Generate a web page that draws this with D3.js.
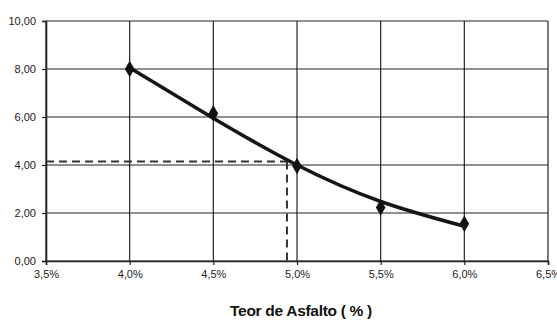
<!DOCTYPE html>
<html><head><meta charset="utf-8">
<script src="https://cdn.jsdelivr.net/npm/d3@7"></script>
<style>body{margin:0;background:#fff}svg{display:block}</style>
</head><body>
<svg id="c" width="557" height="323"></svg>
<script>
const xTicks = [3.5, 4.0, 4.5, 5.0, 5.5, 6.0, 6.5];
const yTicks = [0, 2, 4, 6, 8, 10];
const pointX = [4.0, 4.5, 5.0, 5.5, 6.0];
const pointY = [8.0, 6.15, 3.96, 2.23, 1.55];
const trendX = [4.0, 4.5, 5.0, 5.5, 6.0];
const trendY = [8.05, 5.95, 4.0, 2.48, 1.45];
const refX = 4.94;
const refY = 4.15;
const xTitle = "Teor de Asfalto ( % )";

const svg = d3.select("#c");
const x = d3.scaleLinear().domain([3.5, 6.5]).range([46, 548]);
const y = d3.scaleLinear().domain([0, 10]).range([261, 21]);
const fmtY = v => d3.format(".2f")(v).replace(".", ",");
const fmtX = v => d3.format(".1f")(v).replace(".", ",") + "%";
const ink = "#222";

// gridlines
svg.append("g").selectAll("line").data(yTicks).join("line")
  .attr("x1", x(3.5)).attr("x2", x(6.5))
  .attr("y1", d => y(d)).attr("y2", d => y(d))
  .attr("stroke", ink).attr("stroke-width", 1.2);
svg.append("g").selectAll("line").data(xTicks).join("line")
  .attr("x1", d => x(d)).attr("x2", d => x(d))
  .attr("y1", y(0)).attr("y2", y(10))
  .attr("stroke", ink).attr("stroke-width", 1.2);

// axes
const yAxis = svg.append("g").attr("transform", `translate(${x(3.5)},0)`)
  .call(d3.axisLeft(y).tickValues(yTicks).tickFormat(fmtY).tickSize(4).tickPadding(6));
const xAxis = svg.append("g").attr("transform", `translate(0,${y(0)})`)
  .call(d3.axisBottom(x).tickValues(xTicks).tickFormat(fmtX).tickSize(4).tickPadding(5));
[yAxis, xAxis].forEach(a => {
  a.select(".domain").attr("stroke", ink).attr("stroke-width", 1.6);
  a.selectAll(".tick line").attr("stroke", ink).attr("stroke-width", 1.2);
  a.selectAll("text").attr("fill", "#222").style("font-family", "Liberation Sans, Arial, sans-serif").style("font-size", "11px");
});

// reference dashed lines
svg.append("line")
  .attr("x1", x(3.5)).attr("x2", x(refX))
  .attr("y1", y(refY)).attr("y2", y(refY))
  .attr("stroke", "#333").attr("stroke-width", 2).attr("stroke-dasharray", "8,5");
svg.append("line")
  .attr("x1", x(refX)).attr("x2", x(refX))
  .attr("y1", y(refY)).attr("y2", y(0))
  .attr("stroke", "#333").attr("stroke-width", 2).attr("stroke-dasharray", "8,5");

// trend curve
const trend = trendX.map((d, i) => [d, trendY[i]]);
svg.append("path").datum(trend)
  .attr("fill", "none").attr("stroke", "#151515").attr("stroke-width", 3.5)
  .attr("d", d3.line().x(d => x(d[0])).y(d => y(d[1])).curve(d3.curveNatural));

// points
const pts = pointX.map((d, i) => [d, pointY[i]]);
svg.append("g").selectAll("path").data(pts).join("path")
  .attr("transform", d => `translate(${x(d[0])},${y(d[1])})`)
  .attr("d", d3.symbol().type(d3.symbolDiamond).size(80))
  .attr("fill", "#111");

// title
svg.append("text")
  .attr("x", 301).attr("y", 316)
  .attr("text-anchor", "middle")
  .style("font-family", "Liberation Sans, Arial, sans-serif")
  .style("font-weight", "bold").style("font-size", "15.5px")
  .style("letter-spacing", "-0.3px")
  .attr("fill", "#111")
  .text(xTitle);
</script>
</body></html>
